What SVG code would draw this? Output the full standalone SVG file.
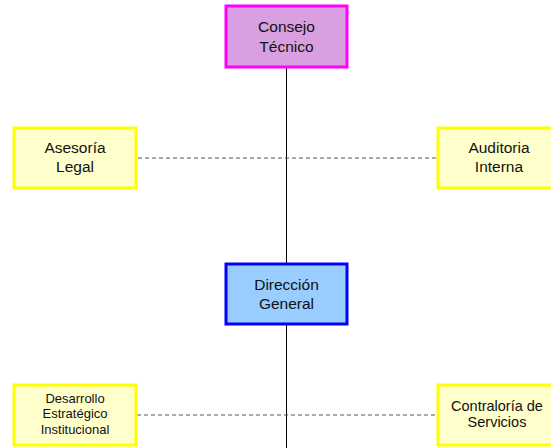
<svg xmlns="http://www.w3.org/2000/svg" width="551" height="448" viewBox="0 0 551 448">
<style>
text{font-family:"Liberation Sans",Arial,sans-serif;font-size:15.5px;fill:#111;text-anchor:middle}
.small{font-size:13px}
.mid{font-size:14.5px}
.y{fill:#FFFFCC;stroke:#FFFF00;stroke-width:3}
.dash{stroke:#555;stroke-width:1;stroke-dasharray:4 3;fill:none}
.solid{stroke:#000;stroke-width:1;fill:none}
</style>
<rect width="551" height="448" fill="#fff"/>
<g id="connectors">
<line class="solid" x1="286.5" y1="68" x2="286.5" y2="448"/>
<line class="dash" x1="138" y1="158" x2="436" y2="158"/>
<line class="dash" x1="137" y1="415" x2="436" y2="415"/>
</g>
<g id="consejo">
<rect x="226" y="6" width="121" height="61" fill="#D8A0E0" stroke="#FF00FF" stroke-width="3"/>
<text x="286.5" y="32">Consejo</text>
<text x="286.5" y="52">Técnico</text>
</g>
<g id="asesoria">
<rect class="y" x="14" y="128" width="122" height="60"/>
<text x="75" y="153">Asesoría</text>
<text x="75" y="172">Legal</text>
</g>
<g id="auditoria">
<rect class="y" x="438" y="128" width="122" height="60"/>
<text x="499" y="152.5">Auditoria</text>
<text x="499" y="172">Interna</text>
</g>
<g id="direccion">
<rect x="226" y="264" width="121" height="60" fill="#99CCFF" stroke="#0000FF" stroke-width="3"/>
<text x="286.5" y="289.5">Dirección</text>
<text x="286.5" y="309">General</text>
</g>
<g id="desarrollo">
<rect class="y" x="14" y="385" width="122" height="60"/>
<text class="small" x="75" y="402.5">Desarrollo</text>
<text class="small" x="75" y="418">Estratégico</text>
<text class="small" x="75" y="434">Institucional</text>
</g>
<g id="contraloria">
<rect class="y" x="438" y="385" width="122" height="60"/>
<text class="mid" x="497" y="411">Contraloría de</text>
<text class="mid" x="497" y="427">Servicios</text>
</g>
</svg>
